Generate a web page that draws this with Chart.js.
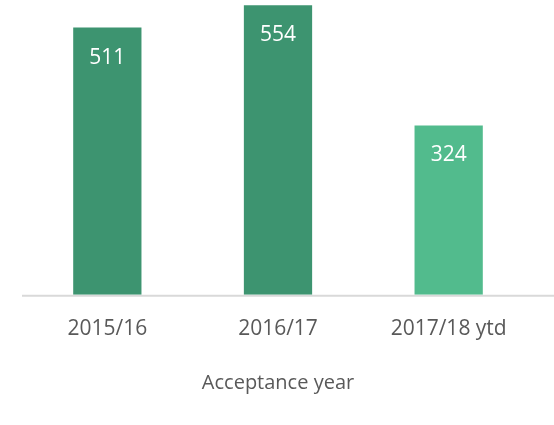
<!DOCTYPE html>
<html>
<head>
<meta charset="utf-8">
<script src="https://cdn.jsdelivr.net/npm/chart.js@4/dist/chart.umd.min.js"></script>
<style>
  html, body { margin: 0; padding: 0; background: #ffffff; }
  #wrap { width: 554px; height: 425px; position: relative; }
</style>
</head>
<body>
<div id="wrap"><canvas id="c" width="554" height="425"></canvas></div>
<script>
const categories = ["2015/16", "2016/17", "2017/18 ytd"];
const acceptances = [511, 554, 324];
const barColors = ["#3D9470", "#3D9470", "#52BB8D"];
const axisTitle = "Acceptance year";

const FONT = "'Open Sans', 'DejaVu Sans', sans-serif";

const valueLabels = {
  id: 'valueLabels',
  afterDatasetsDraw(chart) {
    const ctx = chart.ctx;
    const meta = chart.getDatasetMeta(0);
    ctx.save();
    ctx.fillStyle = '#ffffff';
    ctx.font = '21px ' + FONT;
    ctx.textAlign = 'center';
    ctx.textBaseline = 'middle';
    meta.data.forEach((bar, i) => {
      ctx.fillText(String(acceptances[i]), bar.x, bar.y + 30);
    });
    ctx.restore();
  }
};

const baseLine = {
  id: 'baseLine',
  beforeDatasetsDraw(chart) {
    const ctx = chart.ctx;
    const y = chart.scales.y.getPixelForValue(0);
    ctx.save();
    ctx.strokeStyle = '#D9D9D9';
    ctx.lineWidth = 2;
    ctx.beginPath();
    ctx.moveTo(chart.chartArea.left, y + 1);
    ctx.lineTo(chart.width, y + 1);
    ctx.stroke();
    ctx.restore();
  }
};

new Chart(document.getElementById('c'), {
  type: 'bar',
  data: {
    labels: categories,
    datasets: [{
      data: acceptances,
      backgroundColor: barColors,
      borderWidth: 0,
      barPercentage: 0.4,
      categoryPercentage: 1.0
    }]
  },
  options: {
    responsive: false,
    animation: false,
    devicePixelRatio: 1,
    layout: { padding: { left: 22, right: 20, top: 2, bottom: 30 } },
    plugins: {
      legend: { display: false },
      tooltip: { enabled: false }
    },
    scales: {
      x: {
        grid: { display: false, drawTicks: false },
        border: { display: false },
        ticks: {
          color: '#595959',
          font: { family: FONT, size: 21 },
          padding: 22
        },
        title: {
          display: true,
          text: axisTitle,
          color: '#595959',
          font: { family: FONT, size: 20 },
          padding: { top: 7, bottom: 0 }
        }
      },
      y: {
        display: false,
        min: 0,
        max: 560
      }
    }
  },
  plugins: [baseLine, valueLabels]
});
</script>
</body>
</html>
